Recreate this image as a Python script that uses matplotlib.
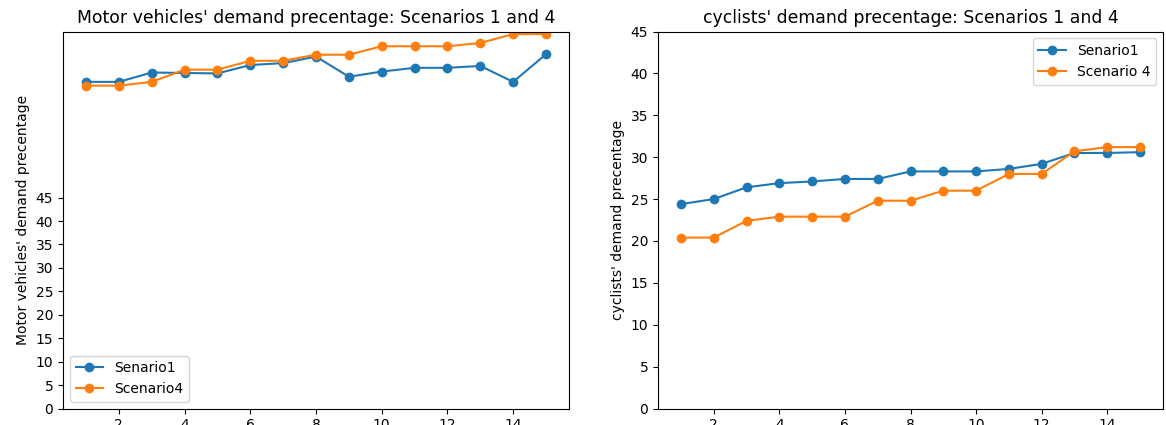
import matplotlib
matplotlib.use("Agg")
import matplotlib.pyplot as plt

x = list(range(1, 16))
motor_s1 = [69.7, 69.7, 71.7, 71.6, 71.5, 73.3, 73.7, 75.1, 70.8, 71.9, 72.7, 72.7, 73.1, 69.7, 75.6]
motor_s4 = [68.9, 68.9, 69.7, 72.3, 72.3, 74.2, 74.2, 75.5, 75.5, 77.3, 77.3, 77.3, 78.0, 79.9, 79.9]
cyc_s1 = [24.4, 25.0, 26.4, 26.9, 27.1, 27.4, 27.4, 28.3, 28.3, 28.3, 28.6, 29.2, 30.5, 30.5, 30.6]
cyc_s4 = [20.4, 20.4, 22.4, 22.9, 22.9, 22.9, 24.8, 24.8, 26.0, 26.0, 28.0, 28.0, 30.7, 31.2, 31.2]
yticks_left = list(range(0, 50, 5))

fig = plt.figure(figsize=(11.66, 4.25), dpi=100)
ax1 = fig.add_axes([63/1166, 16.5/425, 506/1166, 377/425])
ax2 = fig.add_axes([658/1166, 16.5/425, 505/1166, 377/425])

ax1.plot(x, motor_s1, marker='o', label='Senario1')
ax1.plot(x, motor_s4, marker='o', label='Scenario4')
ax1.set_ylim(bottom=0)
ax1.set_yticks(yticks_left)
ax1.set_title("Motor vehicles' demand precentage: Scenarios 1 and 4", fontsize=12.4)
ax1.set_ylabel("Motor vehicles' demand precentage")
ax1.legend(loc='lower left')

ax2.plot(x, cyc_s1, marker='o', label='Senario1')
ax2.plot(x, cyc_s4, marker='o', label='Scenario 4')
ax2.set_ylim(0, 45)
ax2.set_title("cyclists' demand precentage: Scenarios 1 and 4", fontsize=12.4)
ax2.set_ylabel("cyclists' demand precentage")
ax2.legend(loc='upper right')

fig.savefig("out.png", dpi=100)
